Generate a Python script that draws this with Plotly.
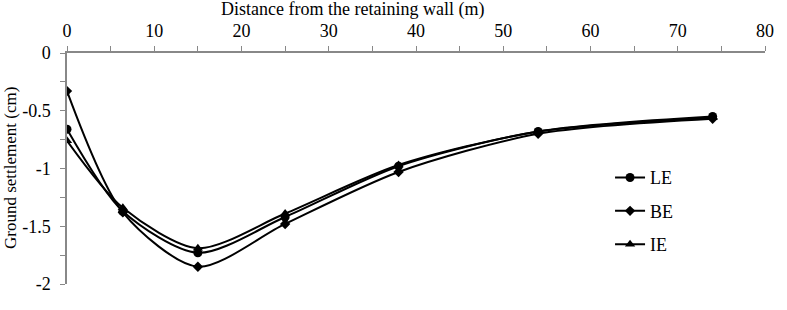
import plotly.graph_objects as go

distance = [0, 6.4, 15, 25, 38, 54, 74]
le = [-0.66, -1.37, -1.73, -1.42, -0.98, -0.68, -0.55]
be = [-0.33, -1.38, -1.85, -1.48, -1.03, -0.70, -0.57]
ie = [-0.76, -1.34, -1.69, -1.39, -0.97, -0.68, -0.56]

x_ticks = [0, 10, 20, 30, 40, 50, 60, 70, 80]
y_ticks = [0, -0.5, -1, -1.5, -2]
y_labels = ["0", "-0.5", "-1", "-1.5", "-2"]

FONT = "Liberation Serif"

fig = go.Figure()
series = [("LE", le, "circle", 9), ("BE", be, "diamond", 8), ("IE", ie, "triangle-up", 9)]
for i, (name, vals, sym, sz) in enumerate(series):
    fig.add_trace(go.Scatter(
        x=distance, y=vals, name=name, mode="lines+markers",
        line=dict(color="black", width=2, shape="spline", smoothing=0.8),
        marker=dict(symbol=sym, size=sz, color="black"),
        legendgroup=f"g{i}",
    ))

fig.update_layout(
    width=787, height=310,
    margin=dict(l=67, r=22, t=53, b=26),
    paper_bgcolor="white", plot_bgcolor="white",
    font=dict(family=FONT, size=18, color="black"),
    showlegend=True,
    legend=dict(x=0.778, y=0.54, xanchor="left", yanchor="top",
                traceorder="grouped", tracegroupgap=7,
                font=dict(size=18, family=FONT), bgcolor="rgba(0,0,0,0)"),
    xaxis=dict(range=[0, 80], side="top", tickvals=x_ticks,
               showgrid=False, zeroline=False, showline=True,
               linecolor="#888", linewidth=1.5, ticks="outside", ticklen=5,
               tickcolor="#888", ticklabelstandoff=2,
               minor=dict(dtick=5, tick0=0, ticks="outside", ticklen=5, tickcolor="#888"),
               tickfont=dict(size=18, family=FONT)),
    yaxis=dict(range=[-2, 0], tickvals=y_ticks, ticktext=y_labels,
               showgrid=False, zeroline=False, showline=True,
               linecolor="#888", linewidth=1.5, ticks="outside", ticklen=5,
               tickcolor="#888", ticklabelstandoff=6,
               minor=dict(dtick=0.25, tick0=0, ticks="outside", ticklen=5, tickcolor="#888"),
               tickfont=dict(size=18, family=FONT)),
)

fig.add_annotation(text="Distance from the retaining wall (m)", xref="paper", yref="paper",
                   x=(352 - 67) / 698, y=1, yshift=56, xanchor="center", yanchor="top",
                   showarrow=False, font=dict(size=18, family=FONT))
fig.add_annotation(text="Ground settlement (cm)", xref="paper", yref="paper",
                   x=0, xshift=-57, y=(284 - 168) / 231, xanchor="center", yanchor="middle",
                   textangle=-90, showarrow=False, font=dict(size=17, family=FONT))

fig.write_html("out.html")
